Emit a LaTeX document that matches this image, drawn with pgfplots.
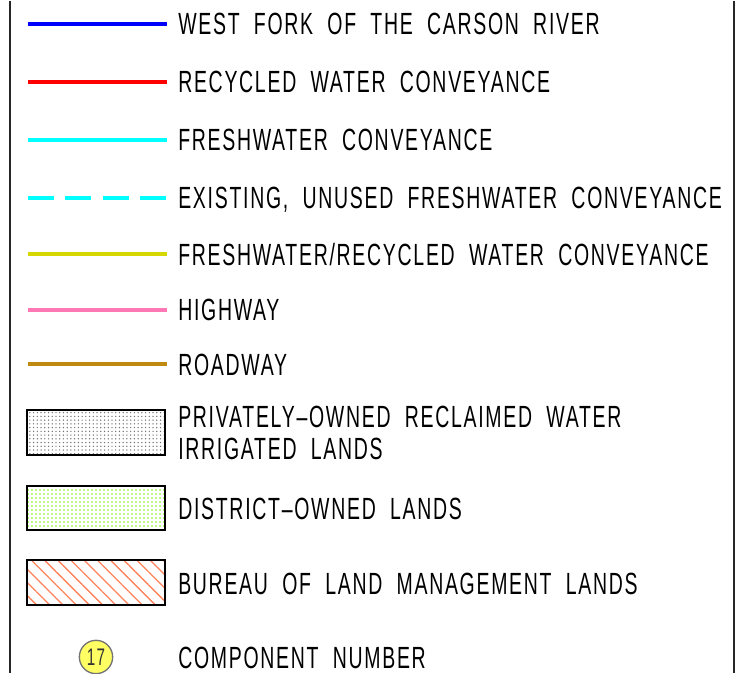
\documentclass[border=0pt]{standalone}
\usepackage{fontspec}
\setmainfont{Liberation Sans}[FakeStretch=0.635, LetterSpace=5.6, WordSpace=2.0]
\usepackage{pgfplots}
\pgfplotsset{compat=1.18}
\usetikzlibrary{patterns.meta}
\definecolor{cBlue}{RGB}{0,0,255}
\definecolor{cRed}{RGB}{255,0,0}
\definecolor{cCyan}{RGB}{0,255,255}
\definecolor{cYel}{RGB}{215,215,0}
\definecolor{cPink}{RGB}{255,120,180}
\definecolor{cBrown}{RGB}{190,138,15}
\definecolor{cHatch}{RGB}{255,130,90}
\definecolor{cGreen}{RGB}{120,245,0}
\definecolor{cDotGrey}{RGB}{110,110,110}
\definecolor{cCircle}{RGB}{255,255,100}
\tikzset{lbl/.style={anchor=base west, inner sep=0pt, font=\fontsize{23}{27}\selectfont}}
\begin{document}
\begin{tikzpicture}
\begin{axis}[width=563.25pt, height=504pt, scale only axis,
  xmin=0, xmax=751, ymin=0, ymax=672, y dir=reverse,
  hide axis, clip=false]
% bounding frame
\addplot[draw=none] coordinates {(0,0) (751,672)};
% side borders
\addplot[black!85, line width=1.5pt] coordinates {(10,0) (10,672)};
\addplot[black!85, line width=1.5pt] coordinates {(734,0) (734,672)};
% line samples
\addplot[cBlue, line width=3pt] coordinates {(28,23) (167,23)};
\addplot[cRed, line width=3pt] coordinates {(28,81) (167,81)};
\addplot[cCyan, line width=3pt] coordinates {(28,139) (167,139)};
\addplot[cCyan, line width=3pt, dash pattern=on 19.5pt off 8.5pt] coordinates {(28,197) (167,197)};
\addplot[cYel, line width=3pt] coordinates {(28,253) (167,253)};
\addplot[cPink, line width=3pt] coordinates {(28,309) (167,309)};
\addplot[cBrown, line width=3pt] coordinates {(28,363) (167,363)};
% area samples
\addplot[black, line width=1.2pt, pattern={Dots[radius=0.55pt, distance=2.8pt]}, pattern color=cDotGrey]
  coordinates {(27,409) (165,409) (165,454) (27,454)} -- cycle;
\addplot[black, line width=1.2pt, pattern={Dots[radius=0.7pt, distance=3pt]}, pattern color=cGreen]
  coordinates {(27,485) (165,485) (165,529) (27,529)} -- cycle;
\addplot[black, line width=1.2pt, pattern={Lines[angle=-45, distance=7pt, line width=1pt]}, pattern color=cHatch]
  coordinates {(27,559) (165,559) (165,604) (27,604)} -- cycle;
% component marker
\addplot[only marks, mark=*, mark size=12.5pt, mark options={fill=cCircle, draw=black!55, line width=1pt},
  nodes near coords={17},
  every node near coord/.append style={anchor=center, inner sep=0pt, text=black!80, font=\fontsize{18}{20}\selectfont}]
  coordinates {(96,656)};
% labels
\node[lbl] at (axis cs:178,34) {WEST FORK OF THE CARSON RIVER};
\node[lbl] at (axis cs:178,92) {RECYCLED WATER CONVEYANCE};
\node[lbl] at (axis cs:178,150) {FRESHWATER CONVEYANCE};
\node[lbl] at (axis cs:178,208) {EXISTING, UNUSED FRESHWATER CONVEYANCE};
\node[lbl] at (axis cs:178,264) {FRESHWATER/RECYCLED WATER CONVEYANCE};
\node[lbl] at (axis cs:178,320) {HIGHWAY};
\node[lbl] at (axis cs:178,374) {ROADWAY};
\node[lbl] at (axis cs:178,426) {PRIVATELY--OWNED RECLAIMED WATER};
\node[lbl] at (axis cs:178,458) {IRRIGATED LANDS};
\node[lbl] at (axis cs:178,518) {DISTRICT--OWNED LANDS};
\node[lbl] at (axis cs:178,593) {BUREAU OF LAND MANAGEMENT LANDS};
\node[lbl] at (axis cs:178,667) {COMPONENT NUMBER};
\end{axis}
\end{tikzpicture}
\end{document}
